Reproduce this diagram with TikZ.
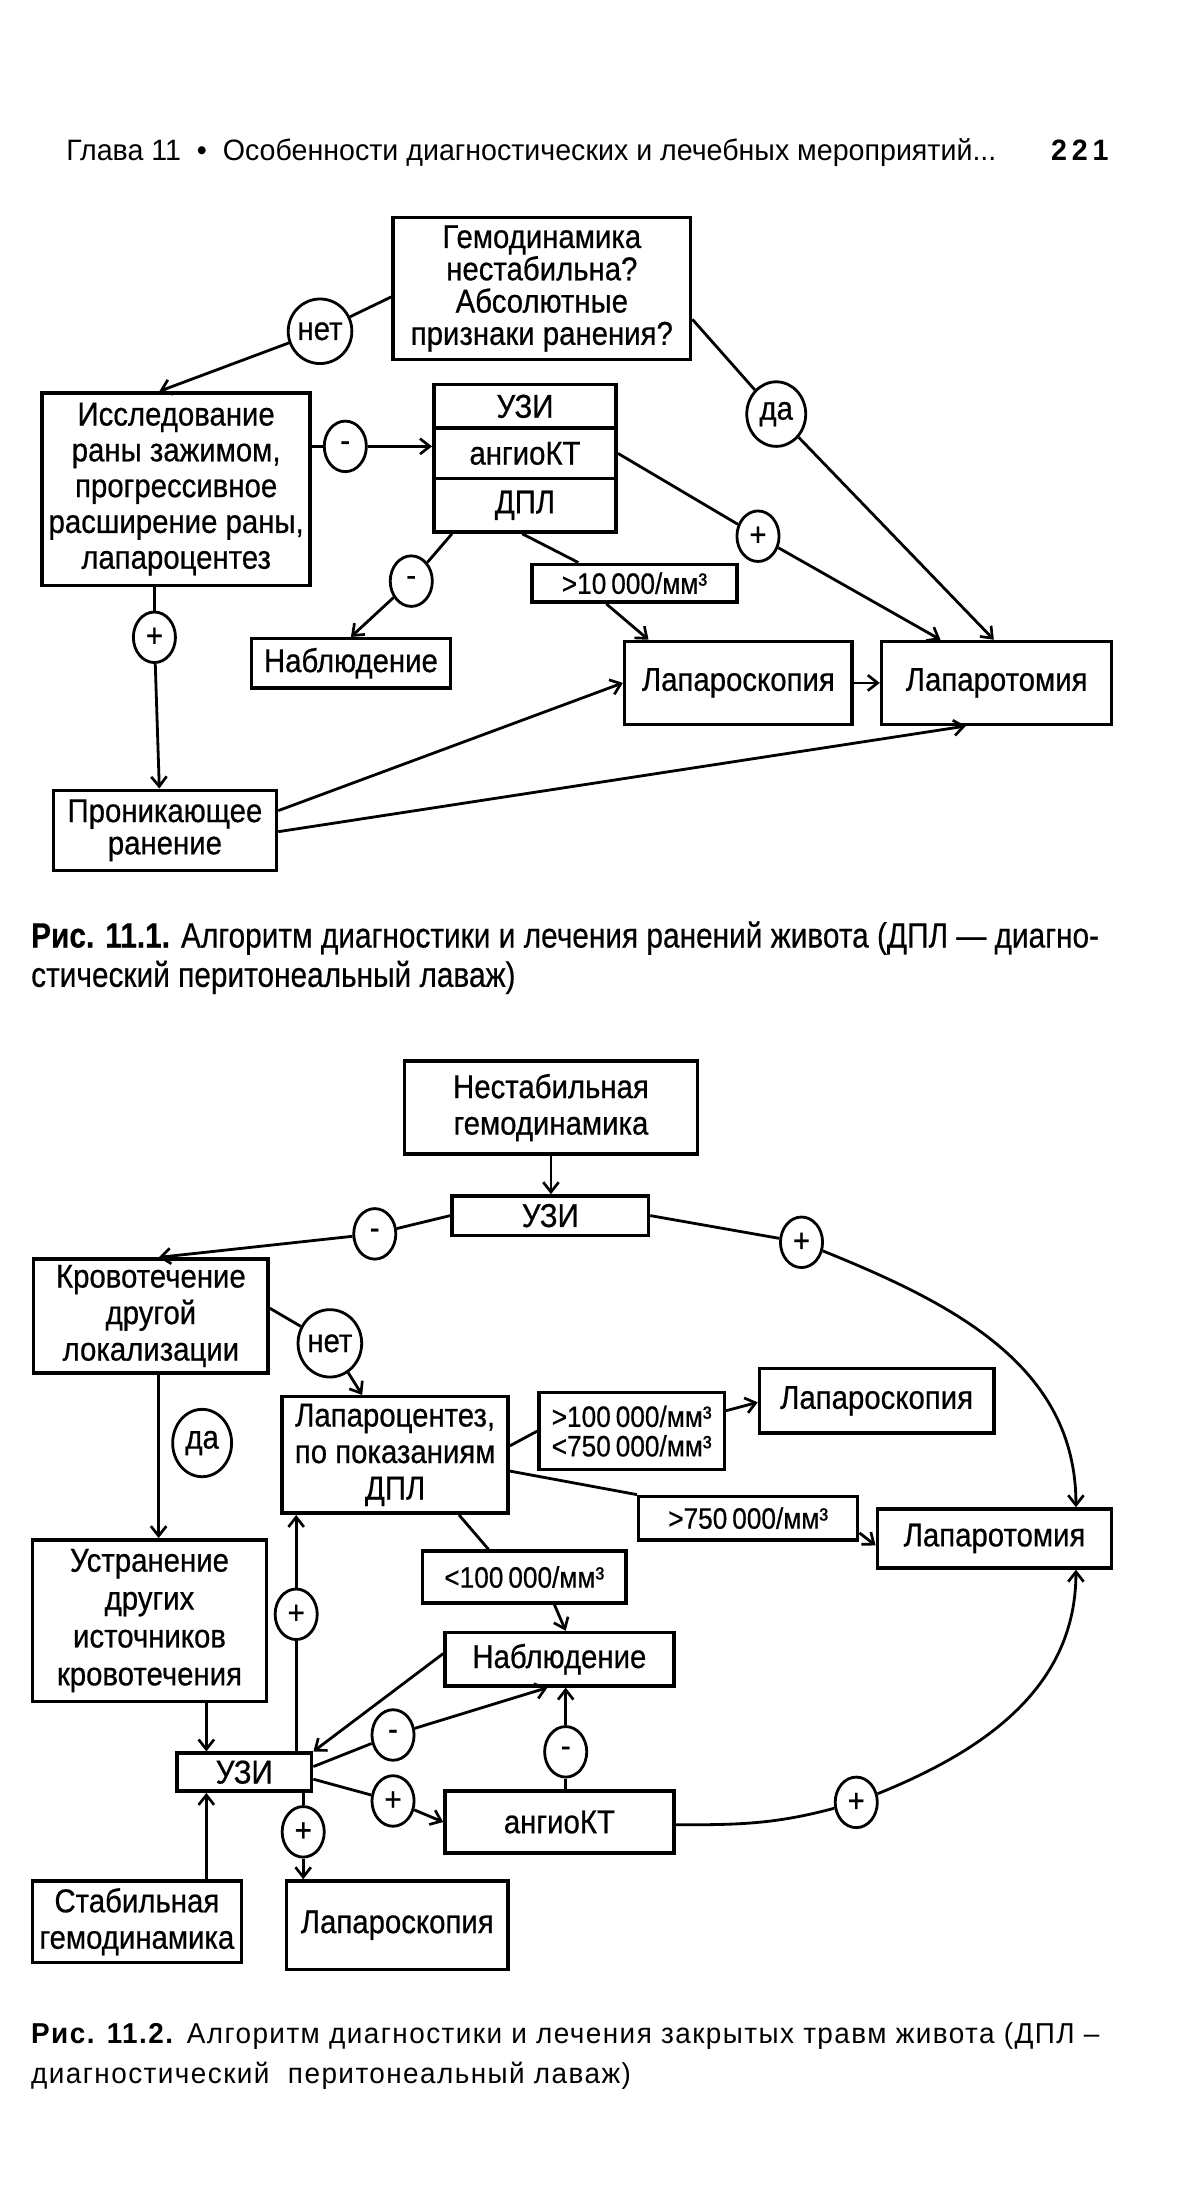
\documentclass[tikz,border=0pt]{standalone}
\usepackage{fontspec}
\setmainfont{Liberation Sans}[FakeStretch=0.89,FakeBold=0.6]
\newfontfamily\capAfont{Liberation Sans}[FakeStretch=0.85,FakeBold=0.4]
\newfontfamily\capBfont{Liberation Sans}[FakeStretch=0.97,LetterSpace=5]
\newfontfamily\headfont{Liberation Sans}[FakeStretch=0.97]
\usetikzlibrary{arrows.meta,shapes.geometric,calc}
\newcommand\myDfont{\fontsize{23.5}{23}\selectfont}
\newcommand\myEfont{\fontsize{23.5}{26}\selectfont}
\newcommand\myLfont{\fontsize{21}{21}\selectfont}
\tikzset{
  box/.style={draw,line width=2.5pt,align=center,inner sep=1pt,font=\myDfont},
  boxb/.style={draw,line width=2.5pt,align=center,inner sep=1pt,font=\myEfont},
  lab/.style={draw,line width=2.5pt,align=center,inner sep=1pt,font=\myLfont},
  pm/.style={ellipse,draw,line width=2pt,minimum width=30pt,minimum height=36pt,inner sep=0pt,font=\myDfont},
  yn/.style={ellipse,draw,line width=2pt,minimum width=42pt,minimum height=46pt,inner sep=0pt,font=\myDfont},
  conn/.style={line width=2pt},
  arr/.style={line width=2pt,-{Straight Barb[length=7pt,width=11pt,line width=1.9pt]}},
}
\begin{document}
\begin{tikzpicture}[x=1pt,y=1pt]
\useasboundingbox[fill=white] (0,0) rectangle (850,-1568);
% header
\node[anchor=base west,inner sep=0pt,font=\headfont\fontsize{21}{23}\selectfont] (hdr) at (47,-114) {Глава 11 \ • \ Особенности диагностических и лечебных мероприятий...};
\node[anchor=base east,inner sep=0pt,font=\headfont\fontsize{21}{23}\selectfont\bfseries] (pg) at (790,-114) {2\,2\,1};

% ---------- Figure 1 ----------
\node[box,minimum width=212pt,minimum height=101pt] (A) at (386,-205.5) {Гемодинамика\\нестабильна?\\Абсолютные\\признаки ранения?};
\node[yn] (netA) at (228,-236) {нет};
\node[box,minimum width=191pt,minimum height=137pt,font=\fontsize{23.5}{25.5}\selectfont] (B) at (125.5,-348.5) {Исследование\\раны зажимом,\\прогрессивное\\расширение раны,\\лапароцентез};
\node[pm] (m1) at (246,-318) {-};
\node[box,minimum width=130pt,minimum height=31pt] (C1) at (374,-289.5) {УЗИ};
\node[box,minimum width=130pt,minimum height=36pt] (C2) at (374,-323) {ангиоКТ};
\node[box,minimum width=130pt,minimum height=38pt] (C3) at (374,-360) {ДПЛ};
\node[yn] (da) at (553,-295) {да};
\node[pm] (p1) at (540,-382) {+};
\node[pm] (m2) at (293,-414) {-};
\node[lab,minimum width=146pt,minimum height=27pt] (L1) at (452,-415.5) {>10\,000/мм³};
\node[box,minimum width=142pt,minimum height=35pt] (N1) at (250,-472.5) {Наблюдение};
\node[box,minimum width=162pt,minimum height=59pt] (LS1) at (526,-486.5) {Лапароскопия};
\node[box,minimum width=164pt,minimum height=59pt] (LT1) at (710,-486.5) {Лапаротомия};
\node[pm] (p2) at (110,-454) {+};
\node[box,minimum width=159pt,minimum height=57pt] (P) at (117.5,-591.5) {Проникающее\\ранение};

\draw[conn] ([yshift=-6pt]A.west) -- (netA);
\draw[arr] (netA) -- ([xshift=-12pt]B.north);
\draw[conn] (B.east |- m1) -- (m1);
\draw[arr] (m1) -- (m1 -| C2.west);
\draw[conn] ([yshift=-22pt]A.east) -- (da);
\draw[arr] (da) -- ([xshift=-2pt]LT1.north);
\draw[conn] (C2.east) -- (p1);
\draw[arr] (p1) -- ([xshift=-40pt]LT1.north);
\draw[conn] ([xshift=-52pt]C3.south) -- (m2);
\draw[arr] (m2) -- (N1.north);
\draw[conn] ([xshift=-2pt]C3.south) -- ([xshift=-40pt]L1.north);
\draw[arr] ([xshift=-20pt]L1.south) -- ([xshift=-64pt]LS1.north);
\draw[arr] (LS1.east) -- (LT1.west);
\draw[conn] (B.south -| p2) -- (p2);
\draw[arr] (p2) -- ([xshift=-4pt]P.north);
\draw[arr] ([yshift=14pt]P.east) -- (LS1.west);
\draw[arr] ([yshift=-1pt]P.east) -- ([xshift=-22pt]LT1.south);

\node[anchor=base west,inner sep=0pt,font=\capAfont\fontsize{25}{27}\selectfont] (cap1a) at (22,-675) {\textbf{Рис. 11.1.} Алгоритм диагностики и лечения ранений живота (ДПЛ — диагно-};
\node[anchor=base west,inner sep=0pt,font=\capAfont\fontsize{25}{27}\selectfont] (cap1b) at (22,-703) {стический перитонеальный лаваж)};

% ---------- Figure 2 ----------
\node[boxb,minimum width=209pt,minimum height=66pt] (NG) at (392.5,-789) {Нестабильная\\гемодинамика};
\node[box,minimum width=140pt,minimum height=28pt] (U1) at (392,-866) {УЗИ};
\node[pm] (m3) at (267,-879) {-};
\node[pm] (p3) at (571,-885) {+};
\node[boxb,minimum width=167pt,minimum height=81pt] (K) at (107.5,-937.5) {Кровотечение\\другой\\локализации};
\node[yn,minimum width=40pt,minimum height=48pt] (net2) at (235,-957) {нет};
\node[boxb,minimum width=161pt,minimum height=83pt] (LC) at (281.5,-1036.5) {Лапароцентез,\\по показаниям\\ДПЛ};
\node[yn,minimum width=42pt,minimum height=48pt] (da2) at (144,-1028) {да};
\node[lab,minimum width=132pt,minimum height=55pt] (L2) at (450,-1019.5) {>100\,000/мм³\\<750\,000/мм³};
\node[box,minimum width=167pt,minimum height=46pt] (LS2) at (624.5,-998) {Лапароскопия};
\node[lab,minimum width=156pt,minimum height=31pt] (L3) at (533,-1081.5) {>750\,000/мм³};
\node[box,minimum width=167pt,minimum height=42pt] (LT2) at (708.5,-1096) {Лапаротомия};
\node[lab,minimum width=145pt,minimum height=37pt] (L4) at (373.5,-1123.5) {<100\,000/мм³};
\node[box,minimum width=163pt,minimum height=38pt] (N2) at (398.5,-1182) {Наблюдение};
\node[box,minimum width=167pt,minimum height=115pt,font=\fontsize{23.5}{27}\selectfont] (UST) at (106.5,-1154.5) {Устранение\\других\\источников\\кровотечения};
\node[box,minimum width=96pt,minimum height=27pt] (U2) at (174,-1262.5) {УЗИ};
\node[boxb,minimum width=149pt,minimum height=58pt] (SG) at (97.5,-1369) {Стабильная\\гемодинамика};
\node[pm] (p4) at (211,-1150) {+};
\node[pm] (m4) at (280,-1236) {-};
\node[pm] (m5) at (403,-1248) {-};
\node[pm] (p5) at (280,-1283) {+};
\node[box,minimum width=163pt,minimum height=44pt] (AKT) at (398.5,-1298) {ангиоКТ};
\node[pm] (p6) at (610,-1284) {+};
\node[pm] (p7) at (216,-1305) {+};
\node[box,minimum width=158pt,minimum height=63pt] (LS3) at (283,-1371.5) {Лапароскопия};

\draw[arr] (NG.south) -- (NG.south |- U1.north);
\draw[conn] (U1.west) -- (m3);
\draw[arr] (m3) -- ([xshift=5.5pt]K.north);
\draw[conn] (U1.east) -- (p3);
\draw[arr] (p3) to[out=-22,in=90] ([xshift=58pt]LT2.north);
\draw[conn] ([yshift=5.5pt]K.east) -- (net2);
\draw[arr] (net2) -- ([xshift=-23.5pt]LC.north);
\draw[arr] ([xshift=5.5pt]K.south) -- ([xshift=6.5pt]UST.north);
\draw[conn] ([yshift=6.5pt]LC.east) -- (L2.west);
\draw[arr] ([yshift=14.5pt]L2.east) -- ([yshift=-1pt]LS2.west);
\draw[conn] ([yshift=-11.5pt]LC.east) -- (L3.north west);
\draw[arr] ([yshift=-10.5pt]L3.east) -- ([yshift=-5pt]LT2.west);
\draw[conn] ([xshift=45.5pt]LC.south) -- ([xshift=-25.5pt]L4.north);
\draw[arr] ([xshift=21.5pt]L4.south) -- ([xshift=4.5pt]N2.north);
\draw[arr] ([xshift=40.5pt]UST.south) -- ([xshift=-27pt]U2.north);
\draw[arr] ([xshift=49.5pt]SG.north) -- ([xshift=-27pt]U2.south);
\draw[conn] ([xshift=37pt]U2.north) -- (p4);
\draw[arr] (p4) -- ([xshift=-70.5pt]LC.south);
\draw[arr] ([yshift=4pt]N2.west) -- (U2.north east);
\draw[conn] ([yshift=4pt]U2.east) -- (m4);
\draw[arr] (m4) -- ([xshift=-8.5pt]N2.south);
\draw[conn] ([xshift=4.5pt]AKT.north) -- (m5);
\draw[arr] (m5) -- ([xshift=4.5pt]N2.south);
\draw[conn] ([yshift=-5pt]U2.east) -- (p5);
\draw[arr] (p5) -- (AKT.west);
\draw[conn] ([yshift=-2pt]AKT.east) to[out=0,in=-165] (p6);
\draw[arr] (p6) to[out=22,in=-90] ([xshift=58pt]LT2.south);
\draw[conn] ([xshift=42pt]U2.south) -- (p7);
\draw[arr] (p7) -- ([xshift=-67pt]LS3.north);

\node[anchor=base west,inner sep=0pt,font=\capBfont\fontsize{20.5}{23}\selectfont] (cap2a) at (22,-1456) {\textbf{Рис. 11.2.} Алгоритм диагностики и лечения закрытых травм живота (ДПЛ –};
\node[anchor=base west,inner sep=0pt,font=\capBfont\fontsize{20.5}{23}\selectfont] (cap2b) at (22,-1484) {диагностический \ перитонеальный лаваж)};
\end{tikzpicture}
\end{document}
